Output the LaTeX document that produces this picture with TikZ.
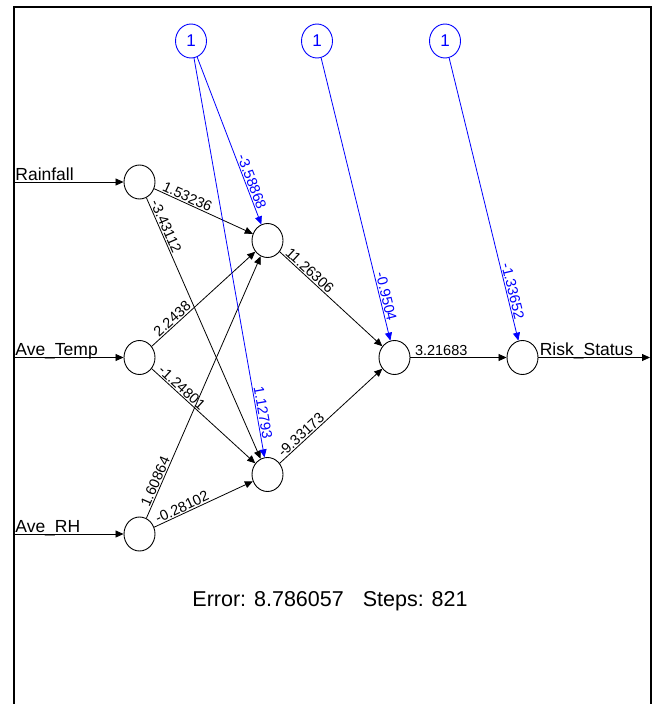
\documentclass[tikz,border=0pt]{standalone}
\usepackage{fontspec}
\setmainfont{Liberation Sans}
\usetikzlibrary{arrows.meta,shapes.geometric}
\begin{document}
\begin{tikzpicture}[x=1pt,y=-1pt,
  neuron/.style={draw, ellipse, minimum width=31pt, minimum height=34pt, inner sep=0pt, line width=0.9pt},
  biasnode/.style={neuron, draw=blue, text=blue, font=\fontsize{17}{20}\selectfont},
  edge/.style={line width=0.8pt, -{Triangle[length=8pt,width=7pt]}},
  bedge/.style={edge, draw=blue},
  wlab/.style={sloped, above, inner sep=1pt, font=\fontsize{14.5}{16}\selectfont},
  blab/.style={wlab, text=blue},
  inlab/.style={pos=0, anchor=base west, inner sep=0pt, xshift=1pt, yshift=2pt, font=\fontsize{17.5}{20}\selectfont}]
\useasboundingbox (0,0) rectangle (653,704);
% frame
\draw[line width=2.5pt] (14,704) -- (14,7) -- (651,7) -- (651,704);
% nodes
\node[neuron] (i1) at (139.5,182) {};
\node[neuron] (i2) at (139.5,357.5) {};
\node[neuron] (i3) at (139.5,534) {};
\node[neuron] (h1) at (267.5,240.5) {};
\node[neuron] (h2) at (267.5,474.5) {};
\node[neuron] (h3) at (394.5,357.5) {};
\node[neuron] (o) at (522.5,357.5) {};
\node[biasnode] (b1) at (191,41) {1};
\node[biasnode] (b2) at (317,41) {1};
\node[biasnode] (b3) at (445,41) {1};
\coordinate (s1) at (14,182);
\coordinate (s2) at (14,357.5);
\coordinate (s3) at (14,534);
\coordinate (e) at (650,357.5);
% inputs
\draw[edge] (s1) -- node[inlab]{Rainfall} (i1);
\draw[edge] (s2) -- node[inlab]{Ave\_Temp} (i2);
\draw[edge] (s3) -- node[inlab]{Ave\_RH} (i3);
% weights
\draw[edge] (i1) -- node[wlab,pos=.31]{1.53236} (h1);
\draw[edge] (i1) -- node[wlab,pos=.12]{-3.43112} (h2);
\draw[edge] (i2) -- node[wlab,pos=.24]{2.2438} (h1);
\draw[edge] (i2) -- node[wlab,pos=.25]{-1.24801} (h2);
\draw[edge] (i3) -- node[wlab,pos=.13]{1.60864} (h1);
\draw[edge] (i3) -- node[wlab,pos=.31]{-0.28102} (h2);
\draw[edge] (h1) -- node[wlab,pos=.25]{11.26306} (h3);
\draw[edge] (h2) -- node[wlab,pos=.25]{-9.33173} (h3);
\draw[edge] (h3) -- node[wlab,pos=.32]{3.21683} (o);
\draw[edge] (o) -- node[inlab,xshift=0pt]{Risk\_Status} (e);
% biases
\draw[bedge] (b1) -- node[blab,pos=.76]{-3.58868} (h1);
\draw[bedge] (b1) -- node[blab,pos=.89]{1.12793} (h2);
\draw[bedge] (b2) -- node[blab,pos=.85]{-0.9504} (h3);
\draw[bedge] (b3) -- node[blab,pos=.83]{-1.33652} (o);
% error
\node[anchor=base, inner sep=0pt, font=\fontsize{21.5}{24}\selectfont] (err) at (330,606) {Error: 8.786057\hspace{19pt}Steps: 821};
\end{tikzpicture}
\end{document}
